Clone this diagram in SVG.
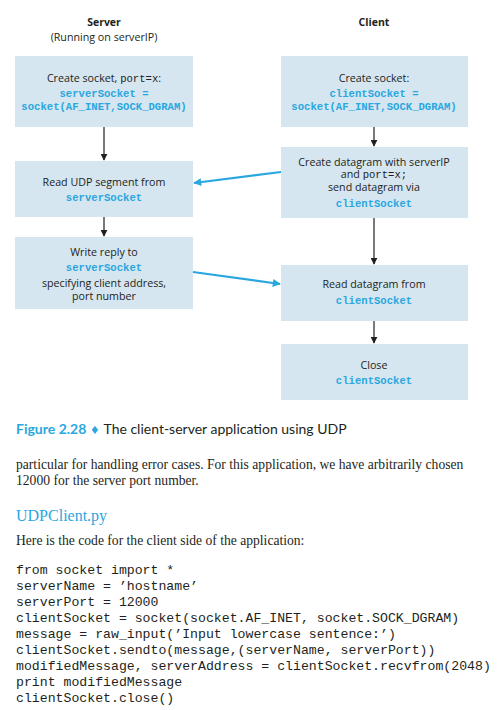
<svg xmlns="http://www.w3.org/2000/svg" width="497" height="710" viewBox="0 0 497 710">
  <style>
    .box { fill: #d5e6f1; }
    .lbl { font-family: "Open Sans", "Noto Sans", sans-serif; font-size: 10.7px; fill: #231f20; text-anchor: middle; }
    .head { font-family: "Open Sans", "Noto Sans", sans-serif; font-size: 10.5px; fill: #231f20; text-anchor: middle; font-weight: bold; }
    .mono { font-family: "Liberation Mono", monospace; font-size: 10.6px; font-weight: bold; fill: #2aa7df; text-anchor: middle; }
    .inmono { font-family: "Liberation Mono", monospace; font-size: 10.6px; }
    .flow { stroke: #231f20; stroke-width: 1.2; fill: none; }
    .msg { stroke: #2aa7df; stroke-width: 2.2; fill: none; }
    .cap { font-family: Lato, "Open Sans", sans-serif; font-size: 14px; fill: #231f20; }
    .capnum { font-family: Lato, "Open Sans", sans-serif; font-size: 14px; font-weight: bold; fill: #2aa7df; }
    .body { font-family: "Liberation Serif", serif; font-size: 13.6px; fill: #231f20; }
    .title { font-family: "Liberation Serif", serif; font-size: 16px; fill: #2aa7df; }
    .code { font-family: "Liberation Mono", monospace; font-size: 13.2px; fill: #231f20; }
  </style>
  <defs>
    <marker id="blk" viewBox="0 0 10 10" refX="9" refY="5" markerWidth="7" markerHeight="7" markerUnits="userSpaceOnUse" orient="auto">
      <path d="M0,0 L10,5 L0,10 z" fill="#231f20"/>
    </marker>
    <marker id="blu" viewBox="0 0 10 10" refX="9" refY="5" markerWidth="9" markerHeight="8" markerUnits="userSpaceOnUse" orient="auto">
      <path d="M0,0 L10,5 L0,10 z" fill="#2aa7df"/>
    </marker>
  </defs>

  <rect width="497" height="710" fill="#ffffff"/>

  <!-- column headings -->
  <text class="head" x="104" y="26">Server</text>
  <text class="lbl" x="104" y="41">(Running on serverIP)</text>
  <text class="head" x="374" y="26">Client</text>

  <!-- server side -->
  <g id="srv-create">
    <rect class="box" x="15" y="56" width="178" height="71"/>
    <text class="lbl" x="104" y="82">Create  socket, <tspan class="inmono">port=x</tspan>:</text>
    <text class="mono" x="104" y="97">serverSocket =</text>
    <text class="mono" x="104" y="110">socket(AF_INET,SOCK_DGRAM)</text>
  </g>
  <g id="srv-read">
    <rect class="box" x="15" y="161" width="178" height="56"/>
    <text class="lbl" x="104" y="186">Read UDP segment from</text>
    <text class="mono" x="104" y="201">serverSocket</text>
  </g>
  <g id="srv-write">
    <rect class="box" x="15" y="237" width="178" height="72"/>
    <text class="lbl" x="104" y="256">Write reply to</text>
    <text class="mono" x="104" y="271">serverSocket</text>
    <text class="lbl" x="104" y="287">specifying client address,</text>
    <text class="lbl" x="104" y="300">port number</text>
  </g>

  <!-- client side -->
  <g id="cli-create">
    <rect class="box" x="281" y="56" width="187" height="71"/>
    <text class="lbl" x="374" y="82">Create socket:</text>
    <text class="mono" x="374" y="97">clientSocket =</text>
    <text class="mono" x="374" y="110">socket(AF_INET,SOCK_DGRAM)</text>
  </g>
  <g id="cli-send">
    <rect class="box" x="281" y="147" width="187" height="71"/>
    <text class="lbl" x="374" y="165.5">Create datagram with serverIP</text>
    <text class="lbl" x="374" y="178">and <tspan class="inmono">port=x;</tspan></text>
    <text class="lbl" x="374" y="191">send datagram via</text>
    <text class="mono" x="374" y="207">clientSocket</text>
  </g>
  <g id="cli-read">
    <rect class="box" x="281" y="265" width="187" height="56"/>
    <text class="lbl" x="374" y="288">Read datagram from</text>
    <text class="mono" x="374" y="304">clientSocket</text>
  </g>
  <g id="cli-close">
    <rect class="box" x="281" y="344" width="187" height="56"/>
    <text class="lbl" x="374" y="369">Close</text>
    <text class="mono" x="374" y="384">clientSocket</text>
  </g>

  <!-- connectors -->
  <g id="connectors">
    <line class="flow" x1="104" y1="127" x2="104" y2="160" marker-end="url(#blk)"/>
    <line class="flow" x1="104" y1="217" x2="104" y2="236" marker-end="url(#blk)"/>
    <line class="flow" x1="374" y1="127" x2="374" y2="146" marker-end="url(#blk)"/>
    <line class="flow" x1="374" y1="218" x2="374" y2="264" marker-end="url(#blk)"/>
    <line class="flow" x1="374" y1="321" x2="374" y2="343" marker-end="url(#blk)"/>
    <line class="msg" x1="281" y1="172" x2="194" y2="183" marker-end="url(#blu)"/>
    <line class="msg" x1="193" y1="272" x2="280" y2="284" marker-end="url(#blu)"/>
  </g>

  <!-- caption -->
  <text x="16" y="434"><tspan class="capnum">Figure 2.28</tspan><tspan class="capnum" dx="5" font-size="10">♦</tspan><tspan class="cap" dx="5">The client-server application using UDP</tspan></text>

  <!-- running text -->
  <text class="body" x="16" y="469">particular for handling error cases. For this application, we have arbitrarily chosen</text>
  <text class="body" x="16" y="485">12000 for the server port number.</text>
  <text class="title" x="16" y="521">UDPClient.py</text>
  <text class="body" x="16" y="545">Here is the code for the client side of the application:</text>

  <!-- client program listing -->
  <g class="code">
    <text x="16" y="574">from socket import *</text>
    <text x="16" y="590">serverName = ’hostname’</text>
    <text x="16" y="606">serverPort = 12000</text>
    <text x="16" y="622">clientSocket = socket(socket.AF_INET, socket.SOCK_DGRAM)</text>
    <text x="16" y="638">message = raw_input(’Input lowercase sentence:’)</text>
    <text x="16" y="654">clientSocket.sendto(message,(serverName, serverPort))</text>
    <text x="16" y="670">modifiedMessage, serverAddress = clientSocket.recvfrom(2048)</text>
    <text x="16" y="686">print modifiedMessage</text>
    <text x="16" y="702">clientSocket.close()</text>
  </g>
</svg>
